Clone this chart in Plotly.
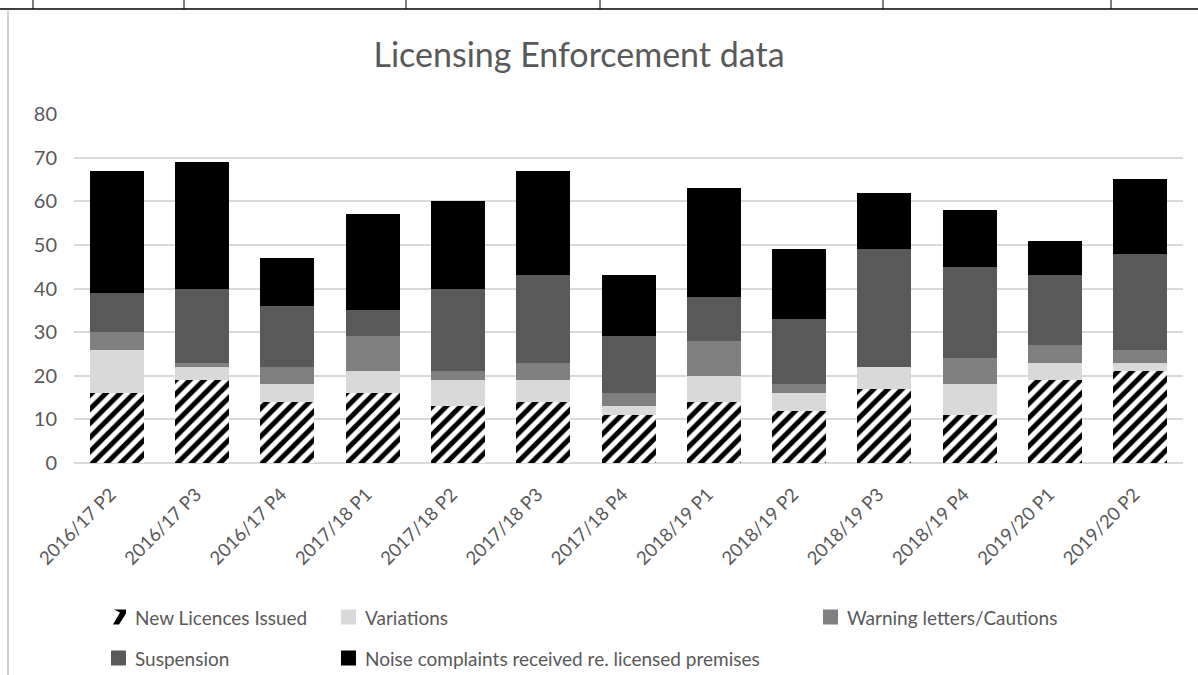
import plotly.graph_objects as go

categories = ["2016/17 P2", "2016/17 P3", "2016/17 P4", "2017/18 P1", "2017/18 P2",
              "2017/18 P3", "2017/18 P4", "2018/19 P1", "2018/19 P2", "2018/19 P3",
              "2018/19 P4", "2019/20 P1", "2019/20 P2"]
new_licences = [16, 19, 14, 16, 13, 14, 11, 14, 12, 17, 11, 19, 21]
variations = [10, 3, 4, 5, 6, 5, 2, 6, 4, 5, 7, 4, 2]
warnings = [4, 1, 4, 8, 2, 4, 3, 8, 2, 0, 6, 4, 3]
suspension = [9, 17, 14, 6, 19, 20, 13, 10, 15, 27, 21, 16, 22]
noise = [28, 29, 11, 22, 20, 24, 14, 25, 16, 13, 13, 8, 17]
series_names = ["New Licences Issued", "Variations", "Warning letters/Cautions",
                "Suspension", "Noise complaints received re. licensed premises"]
y_ticks = [0, 10, 20, 30, 40, 50, 60, 70, 80]

W, H = 1198, 675
L, R, T, B = 74, 15, 114, 212
PW, PH = W - L - R, H - T - B

def px(x):
    return (x - L) / PW

def py(y):
    return (H - B - y) / PH

FONT = "Lato, Carlito, Calibri, sans-serif"
TXT = "#595959"

fig = go.Figure()
fig.add_bar(x=categories, y=new_licences, name=series_names[0],
            marker=dict(color="white", line=dict(width=0),
                        pattern=dict(shape="/", fgcolor="black", bgcolor="white",
                                     fgopacity=1, size=10, solidity=0.5)))
for vals, name, col in [(variations, series_names[1], "#d9d9d9"),
                        (warnings, series_names[2], "#808080"),
                        (suspension, series_names[3], "#595959"),
                        (noise, series_names[4], "#000000")]:
    fig.add_bar(x=categories, y=vals, name=name,
                marker=dict(color=col, line=dict(width=0)))

fig.update_traces(showlegend=False, hoverinfo="skip")

shapes = []
annotations = []
# custom legend
legend_items = [
    (111, 617, 0, "#ffffff"), (341, 617, 1, "#d9d9d9"), (823, 617, 2, "#808080"),
    (111, 658, 3, "#595959"), (341, 658, 4, "#000000"),
]
s = 15
for x0, yc, idx, col in legend_items:
    if idx == 0:
        shapes.append(dict(type="path", xref="paper", yref="paper",
                           path=(f"M {px(x0 + 2)} {py(yc + s / 2)} L {px(x0 + 8)} {py(yc + s / 2)} "
                                 f"L {px(x0 + s)} {py(yc - s / 2 + 4)} L {px(x0 + s)} {py(yc - s / 2)} "
                                 f"L {px(x0 + 3)} {py(yc - s / 2)} L {px(x0 + 9)} {py(yc - s / 2 + 3)} Z"),
                           fillcolor="black", line=dict(width=0)))
    else:
        shapes.append(dict(type="rect", xref="paper", yref="paper",
                           x0=px(x0), x1=px(x0 + s), y0=py(yc + s / 2), y1=py(yc - s / 2),
                           fillcolor=col, line=dict(width=0), layer="above"))
    annotations.append(dict(xref="paper", yref="paper", x=px(x0 + 22), y=py(yc),
                            xanchor="left", yanchor="middle", showarrow=False,
                            text=series_names[idx],
                            font=dict(family=FONT, size=19, color=TXT)))

# page decorations: table border at top and left gray frame line
shapes.append(dict(type="line", xref="paper", yref="paper", x0=px(0), x1=px(W),
                   y0=py(9), y1=py(9), line=dict(color="#000000", width=1.5)))
for xv in [33, 184, 406, 600, 883, 1111]:
    shapes.append(dict(type="line", xref="paper", yref="paper", x0=px(xv), x1=px(xv),
                       y0=py(0), y1=py(9), line=dict(color="#000000", width=1)))
shapes.append(dict(type="line", xref="paper", yref="paper", x0=px(8), x1=px(8),
                   y0=py(11), y1=py(675), line=dict(color="#d0d0d0", width=2)))

fig.update_layout(
    width=W, height=H,
    margin=dict(l=L, r=R, t=T, b=B, autoexpand=False),
    barmode="stack", bargap=0.367,
    plot_bgcolor="white", paper_bgcolor="white",
    title=dict(text="Licensing Enforcement data", x=px(610), xanchor="center",
               y=1 - 55 / H, yanchor="middle",
               font=dict(family=FONT, size=34, color=TXT)),
    xaxis=dict(tickangle=-45, tickfont=dict(family=FONT, size=18.5, color=TXT),
               showgrid=False, showline=False, ticks="", ticklen=0,
               ticklabelstandoff=16, ticklabelshift=-6),
    yaxis=dict(range=[0, 80], tickvals=y_ticks, showgrid=True, gridcolor="#d9d9d9",
               gridwidth=1.5, zeroline=True, zerolinecolor="#d9d9d9", zerolinewidth=1.5,
               tickfont=dict(family=FONT, size=20, color=TXT), ticks="", showline=False,
               ticklabelstandoff=16),
    shapes=shapes, annotations=annotations,
    showlegend=False,
)

fig.write_html("out.html", config={"displayModeBar": False},
               post_script="document.body.style.margin='0';")
